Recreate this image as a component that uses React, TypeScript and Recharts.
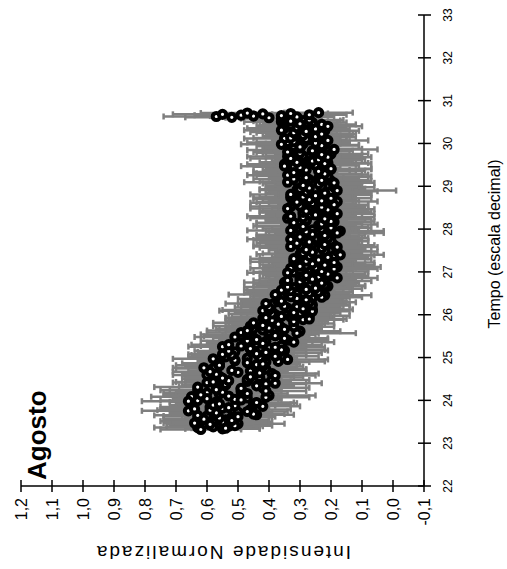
import { ScatterChart, Scatter, XAxis, YAxis, ErrorBar } from "recharts";

// Tempo (h, escala decimal) de cada leitura: primeira passada
const tempo = [
  23.32, 23.35, 23.38, 23.41, 23.44, 23.47, 23.5, 23.53, 23.56, 23.59,
  23.62, 23.65, 23.68, 23.71, 23.74, 23.77, 23.8, 23.83, 23.86, 23.89,
  23.92, 23.95, 23.98, 24.01, 24.04, 24.07, 24.1, 24.13, 24.16, 24.19,
  24.22, 24.25, 24.28, 24.31, 24.34, 24.37, 24.4, 24.43, 24.46, 24.49,
  24.52, 24.55, 24.58, 24.61, 24.64, 24.67, 24.7, 24.73, 24.76, 24.79,
  24.82, 24.85, 24.88, 24.91, 24.94, 24.97, 25.0, 25.03, 25.06, 25.09,
  25.12, 25.15, 25.18, 25.21, 25.24, 25.27, 25.3, 25.33, 25.36, 25.39,
  25.42, 25.45, 25.48, 25.51, 25.54, 25.57, 25.6, 25.63, 25.66, 25.69,
  25.72, 25.75, 25.78, 25.81, 25.84, 25.87, 25.9, 25.93, 25.96, 25.99,
  26.02, 26.05, 26.08, 26.11, 26.14, 26.17, 26.2, 26.23, 26.26, 26.29,
  26.32, 26.35, 26.38, 26.41, 26.44, 26.47, 26.5, 26.53, 26.56, 26.59,
  26.62, 26.65, 26.68, 26.71, 26.74, 26.77, 26.8, 26.83, 26.86, 26.89,
  26.92, 26.95, 26.98, 27.01, 27.04, 27.07, 27.1, 27.13, 27.16, 27.19,
  27.22, 27.25, 27.28, 27.31, 27.34, 27.37, 27.4, 27.43, 27.46, 27.49,
  27.52, 27.55, 27.58, 27.61, 27.64, 27.67, 27.7, 27.73, 27.76, 27.79,
  27.82, 27.85, 27.88, 27.91, 27.94, 27.97, 28.0, 28.03, 28.06, 28.09,
  28.12, 28.15, 28.18, 28.21, 28.24, 28.27, 28.3, 28.33, 28.36, 28.39,
  28.42, 28.45, 28.48, 28.51, 28.54, 28.57, 28.6, 28.63, 28.66, 28.69,
  28.72, 28.75, 28.78, 28.81, 28.84, 28.87, 28.9, 28.93, 28.96, 28.99,
  29.02, 29.05, 29.08, 29.11, 29.14, 29.17, 29.2, 29.23, 29.26, 29.29,
  29.32, 29.35, 29.38, 29.41, 29.44, 29.47, 29.5, 29.53, 29.56, 29.59,
  29.62, 29.65, 29.68, 29.71, 29.74, 29.77, 29.8, 29.83, 29.86, 29.89,
  29.92, 29.95, 29.98, 30.01, 30.04, 30.07, 30.1, 30.13, 30.16, 30.19,
  30.22, 30.25, 30.28, 30.31, 30.34, 30.37, 30.4, 30.43, 30.46, 30.49,
  30.52, 30.55, 30.58,
  30.6, 30.61, 30.62, 30.63, 30.64, 30.65, 30.66, 30.67, 30.68, 30.69,
  30.7, 30.71, 30.72,
];

// Intensidade normalizada: primeira passada
const intensidade = [
  0.62, 0.54, 0.58, 0.51, 0.59, 0.64, 0.55, 0.52, 0.61, 0.56,
  0.5, 0.63, 0.45, 0.57, 0.47, 0.59, 0.64, 0.53, 0.42, 0.58,
  0.56, 0.44, 0.66, 0.49, 0.6, 0.41, 0.53, 0.62, 0.47, 0.55,
  0.41, 0.57, 0.49, 0.63, 0.44, 0.54, 0.38, 0.58, 0.53, 0.47,
  0.55, 0.46, 0.38, 0.57, 0.43, 0.59, 0.52, 0.41, 0.61, 0.42,
  0.56, 0.42, 0.47, 0.37, 0.51, 0.58, 0.43, 0.38, 0.52, 0.44,
  0.41, 0.53, 0.36, 0.46, 0.38, 0.49, 0.53, 0.42, 0.32, 0.47,
  0.44, 0.35, 0.51, 0.38, 0.47, 0.31, 0.4, 0.47, 0.35, 0.4,
  0.32, 0.42, 0.37, 0.45, 0.32, 0.39, 0.27, 0.41, 0.36, 0.32,
  0.39, 0.32, 0.26, 0.4, 0.29, 0.4, 0.35, 0.26, 0.41, 0.27,
  0.36, 0.28, 0.31, 0.23, 0.33, 0.38, 0.27, 0.24, 0.33, 0.28,
  0.25, 0.34, 0.22, 0.3, 0.23, 0.3, 0.34, 0.26, 0.18, 0.29,
  0.28, 0.21, 0.34, 0.23, 0.3, 0.19, 0.25, 0.3, 0.22, 0.26,
  0.19, 0.28, 0.24, 0.32, 0.21, 0.27, 0.17, 0.29, 0.26, 0.22,
  0.28, 0.23, 0.18, 0.3, 0.22, 0.31, 0.27, 0.2, 0.33, 0.21,
  0.3, 0.22, 0.26, 0.18, 0.28, 0.33, 0.23, 0.2, 0.29, 0.24,
  0.23, 0.32, 0.2, 0.28, 0.22, 0.29, 0.33, 0.25, 0.18, 0.29,
  0.28, 0.21, 0.34, 0.23, 0.3, 0.19, 0.26, 0.31, 0.23, 0.27,
  0.2, 0.29, 0.25, 0.33, 0.22, 0.28, 0.18, 0.3, 0.27, 0.23,
  0.29, 0.24, 0.19, 0.31, 0.23, 0.32, 0.28, 0.21, 0.34, 0.22,
  0.32, 0.24, 0.28, 0.2, 0.3, 0.35, 0.25, 0.22, 0.31, 0.26,
  0.24, 0.33, 0.21, 0.29, 0.23, 0.3, 0.34, 0.26, 0.19, 0.3,
  0.3, 0.23, 0.36, 0.25, 0.32, 0.21, 0.28, 0.33, 0.25, 0.29,
  0.23, 0.32, 0.28, 0.36, 0.25, 0.31, 0.21, 0.33, 0.3, 0.26,
  0.33, 0.27, 0.36,
  0.4, 0.52, 0.31, 0.57, 0.45, 0.36, 0.49, 0.27, 0.55, 0.42,
  0.33, 0.47, 0.24,
];

// Desvio padrao de cada leitura: primeira passada
const desvio = [
  0.13, 0.11, 0.15, 0.12, 0.14, 0.1, 0.16, 0.12, 0.13, 0.11,
  0.12, 0.14, 0.1, 0.15, 0.13, 0.17, 0.11, 0.13, 0.12, 0.14,
  0.14, 0.12, 0.15, 0.13, 0.11, 0.14, 0.16, 0.12, 0.13, 0.15,
  0.13, 0.15, 0.11, 0.14, 0.12, 0.13, 0.15, 0.12, 0.14, 0.11,
  0.12, 0.14, 0.13, 0.11, 0.15, 0.12, 0.14, 0.13, 0.1, 0.13,
  0.14, 0.12, 0.13, 0.15, 0.11, 0.13, 0.12, 0.14, 0.13, 0.12,
  0.13, 0.11, 0.14, 0.12, 0.16, 0.13, 0.12, 0.14, 0.13, 0.15,
  0.12, 0.14, 0.13, 0.11, 0.15, 0.19, 0.14, 0.13, 0.12, 0.14,
  0.13, 0.12, 0.15, 0.13, 0.11, 0.14, 0.12, 0.13, 0.16, 0.12,
  0.14, 0.13, 0.12, 0.15, 0.13, 0.11, 0.14, 0.12, 0.13, 0.15,
  0.13, 0.12, 0.14, 0.13, 0.12, 0.15, 0.13, 0.11, 0.14, 0.12,
  0.12, 0.14, 0.13, 0.15, 0.12, 0.13, 0.11, 0.14, 0.13, 0.12,
  0.14, 0.12, 0.13, 0.15, 0.12, 0.14, 0.13, 0.12, 0.16, 0.13,
  0.13, 0.15, 0.12, 0.14, 0.13, 0.11, 0.14, 0.13, 0.12, 0.15,
  0.12, 0.14, 0.13, 0.15, 0.12, 0.13, 0.16, 0.12, 0.14, 0.13,
  0.14, 0.13, 0.12, 0.15, 0.13, 0.14, 0.12, 0.13, 0.15, 0.12,
  0.13, 0.12, 0.14, 0.13, 0.15, 0.12, 0.14, 0.13, 0.12, 0.14,
  0.15, 0.13, 0.12, 0.14, 0.13, 0.11, 0.14, 0.13, 0.12, 0.15,
  0.13, 0.14, 0.12, 0.13, 0.15, 0.12, 0.19, 0.13, 0.14, 0.12,
  0.12, 0.14, 0.13, 0.12, 0.15, 0.13, 0.12, 0.14, 0.13, 0.12,
  0.13, 0.12, 0.14, 0.13, 0.11, 0.14, 0.13, 0.15, 0.12, 0.13,
  0.12, 0.13, 0.14, 0.12, 0.13, 0.12, 0.11, 0.13, 0.14, 0.12,
  0.11, 0.12, 0.13, 0.11, 0.12, 0.13, 0.11, 0.12, 0.1, 0.12,
  0.11, 0.12, 0.1, 0.12, 0.11, 0.12, 0.11, 0.1, 0.12, 0.11,
  0.12, 0.11, 0.13,
  0.14, 0.15, 0.12, 0.17, 0.14, 0.13, 0.15, 0.12, 0.16, 0.14,
  0.12, 0.15, 0.11,
];

// Segunda passada, leituras intercaladas
const tempo2 = [
  23.335, 23.365, 23.395, 23.425, 23.455, 23.485, 23.515, 23.545, 23.575, 23.605,
  23.635, 23.665, 23.695, 23.725, 23.755, 23.785, 23.815, 23.845, 23.875, 23.905,
  23.935, 23.965, 23.995, 24.025, 24.055, 24.085, 24.115, 24.145, 24.175, 24.205,
  24.235, 24.265, 24.295, 24.325, 24.355, 24.385, 24.415, 24.445, 24.475, 24.505,
  24.535, 24.565, 24.595, 24.625, 24.655, 24.685, 24.715, 24.745, 24.775, 24.805,
  24.835, 24.865, 24.895, 24.925, 24.955, 24.985, 25.015, 25.045, 25.075, 25.105,
  25.135, 25.165, 25.195, 25.225, 25.255, 25.285, 25.315, 25.345, 25.375, 25.405,
  25.435, 25.465, 25.495, 25.525, 25.555, 25.585, 25.615, 25.645, 25.675, 25.705,
  25.735, 25.765, 25.795, 25.825, 25.855, 25.885, 25.915, 25.945, 25.975, 26.005,
  26.035, 26.065, 26.095, 26.125, 26.155, 26.185, 26.215, 26.245, 26.275, 26.305,
  26.335, 26.365, 26.395, 26.425, 26.455, 26.485, 26.515, 26.545, 26.575, 26.605,
  26.635, 26.665, 26.695, 26.725, 26.755, 26.785, 26.815, 26.845, 26.875, 26.905,
  26.935, 26.965, 26.995, 27.025, 27.055, 27.085, 27.115, 27.145, 27.175, 27.205,
  27.235, 27.265, 27.295, 27.325, 27.355, 27.385, 27.415, 27.445, 27.475, 27.505,
  27.535, 27.565, 27.595, 27.625, 27.655, 27.685, 27.715, 27.745, 27.775, 27.805,
  27.835, 27.865, 27.895, 27.925, 27.955, 27.985, 28.015, 28.045, 28.075, 28.105,
  28.135, 28.165, 28.195, 28.225, 28.255, 28.285, 28.315, 28.345, 28.375, 28.405,
  28.435, 28.465, 28.495, 28.525, 28.555, 28.585, 28.615, 28.645, 28.675, 28.705,
  28.735, 28.765, 28.795, 28.825, 28.855, 28.885, 28.915, 28.945, 28.975, 29.005,
  29.035, 29.065, 29.095, 29.125, 29.155, 29.185, 29.215, 29.245, 29.275, 29.305,
  29.335, 29.365, 29.395, 29.425, 29.455, 29.485, 29.515, 29.545, 29.575, 29.605,
  29.635, 29.665, 29.695, 29.725, 29.755, 29.785, 29.815, 29.845, 29.875, 29.905,
  29.935, 29.965, 29.995, 30.025, 30.055, 30.085, 30.115, 30.145, 30.175, 30.205,
  30.235, 30.265, 30.295, 30.325, 30.355, 30.385, 30.415, 30.445, 30.475, 30.505,
  30.535, 30.565,
];

const intensidade2 = [
  0.55, 0.63, 0.53, 0.59, 0.5, 0.58, 0.62, 0.54, 0.63, 0.52,
  0.6, 0.44, 0.57, 0.5, 0.66, 0.46, 0.55, 0.59, 0.51, 0.45,
  0.44, 0.57, 0.63, 0.51, 0.47, 0.65, 0.4, 0.56, 0.6, 0.49,
  0.63, 0.49, 0.42, 0.57, 0.54, 0.41, 0.6, 0.47, 0.39, 0.55,
  0.43, 0.56, 0.6, 0.39, 0.5, 0.46, 0.42, 0.58, 0.44, 0.56,
  0.44, 0.56, 0.41, 0.51, 0.34, 0.47, 0.54, 0.41, 0.55, 0.37,
  0.51, 0.35, 0.46, 0.4, 0.55, 0.36, 0.44, 0.48, 0.41, 0.34,
  0.35, 0.45, 0.49, 0.4, 0.37, 0.49, 0.3, 0.42, 0.45, 0.36,
  0.46, 0.37, 0.32, 0.41, 0.39, 0.29, 0.42, 0.33, 0.27, 0.38,
  0.3, 0.39, 0.42, 0.26, 0.34, 0.31, 0.27, 0.39, 0.29, 0.37,
  0.29, 0.37, 0.26, 0.33, 0.22, 0.31, 0.34, 0.26, 0.36, 0.23,
  0.32, 0.21, 0.3, 0.24, 0.35, 0.22, 0.28, 0.3, 0.24, 0.2,
  0.21, 0.29, 0.32, 0.25, 0.23, 0.33, 0.18, 0.28, 0.3, 0.23,
  0.32, 0.24, 0.2, 0.28, 0.27, 0.19, 0.3, 0.22, 0.18, 0.28,
  0.22, 0.29, 0.33, 0.19, 0.26, 0.23, 0.21, 0.31, 0.22, 0.3,
  0.23, 0.31, 0.21, 0.28, 0.17, 0.26, 0.3, 0.22, 0.32, 0.2,
  0.3, 0.19, 0.28, 0.23, 0.34, 0.21, 0.27, 0.29, 0.24, 0.2,
  0.29, 0.2, 0.27, 0.33, 0.22, 0.25, 0.31, 0.18, 0.28, 0.32,
  0.33, 0.25, 0.21, 0.29, 0.28, 0.2, 0.31, 0.23, 0.19, 0.29,
  0.23, 0.3, 0.34, 0.2, 0.27, 0.24, 0.22, 0.32, 0.23, 0.31,
  0.33, 0.23, 0.2, 0.29, 0.32, 0.25, 0.35, 0.21, 0.27, 0.24,
  0.22, 0.29, 0.34, 0.24, 0.2, 0.31, 0.26, 0.33, 0.23, 0.3,
  0.32, 0.22, 0.29, 0.34, 0.25, 0.27, 0.35, 0.23, 0.3, 0.24,
  0.25, 0.34, 0.22, 0.31, 0.35, 0.26, 0.32, 0.23, 0.28, 0.36,
  0.29, 0.34,
];

const desvio2 = [
  0.12, 0.14, 0.11, 0.13, 0.15, 0.12, 0.13, 0.14, 0.11, 0.13,
  0.14, 0.12, 0.13, 0.11, 0.15, 0.13, 0.12, 0.16, 0.13, 0.12,
  0.13, 0.15, 0.12, 0.14, 0.11, 0.13, 0.15, 0.12, 0.14, 0.13,
  0.12, 0.13, 0.15, 0.12, 0.14, 0.13, 0.11, 0.14, 0.12, 0.13,
  0.14, 0.12, 0.11, 0.15, 0.13, 0.12, 0.14, 0.12, 0.13, 0.11,
  0.13, 0.12, 0.14, 0.12, 0.13, 0.15, 0.12, 0.13, 0.11, 0.14,
  0.12, 0.14, 0.13, 0.12, 0.11, 0.13, 0.14, 0.12, 0.15, 0.13,
  0.14, 0.13, 0.12, 0.15, 0.13, 0.11, 0.13, 0.14, 0.12, 0.13,
  0.12, 0.14, 0.13, 0.12, 0.15, 0.13, 0.12, 0.14, 0.13, 0.11,
  0.13, 0.12, 0.14, 0.13, 0.12, 0.14, 0.13, 0.11, 0.14, 0.12,
  0.14, 0.13, 0.12, 0.13, 0.15, 0.12, 0.14, 0.13, 0.12, 0.13,
  0.13, 0.12, 0.14, 0.12, 0.13, 0.15, 0.12, 0.13, 0.14, 0.12,
  0.12, 0.14, 0.13, 0.12, 0.15, 0.13, 0.14, 0.12, 0.13, 0.14,
  0.14, 0.12, 0.13, 0.15, 0.12, 0.13, 0.14, 0.12, 0.13, 0.12,
  0.13, 0.14, 0.12, 0.13, 0.15, 0.12, 0.13, 0.14, 0.12, 0.13,
  0.12, 0.13, 0.15, 0.12, 0.14, 0.13, 0.12, 0.14, 0.13, 0.15,
  0.14, 0.12, 0.13, 0.14, 0.12, 0.15, 0.13, 0.12, 0.14, 0.13,
  0.13, 0.14, 0.12, 0.13, 0.14, 0.12, 0.15, 0.13, 0.12, 0.13,
  0.12, 0.13, 0.14, 0.12, 0.13, 0.15, 0.12, 0.14, 0.13, 0.12,
  0.13, 0.12, 0.14, 0.13, 0.12, 0.13, 0.14, 0.12, 0.15, 0.13,
  0.12, 0.14, 0.13, 0.12, 0.13, 0.14, 0.12, 0.13, 0.12, 0.14,
  0.13, 0.12, 0.13, 0.14, 0.12, 0.13, 0.12, 0.14, 0.13, 0.12,
  0.12, 0.11, 0.12, 0.13, 0.11, 0.12, 0.13, 0.11, 0.12, 0.11,
  0.11, 0.12, 0.11, 0.1, 0.12, 0.11, 0.12, 0.11, 0.1, 0.12,
  0.12, 0.11,
];

const ticksIntensidade = [-0.1, 0, 0.1, 0.2, 0.3, 0.4, 0.5, 0.6, 0.7, 0.8, 0.9, 1.0, 1.1, 1.2];
const ticksTempo = [22, 23, 24, 25, 26, 27, 28, 29, 30, 31, 32, 33];

const pontos = [
  ...tempo2.map((t, k) => ({ t, i: intensidade2[k], desvio: desvio2[k] })),
  ...tempo.map((t, k) => ({ t, i: intensidade[k], desvio: desvio[k] })),
];

const FONTE = '"Liberation Sans", Arial, sans-serif';
const virgula = (v: number) => v.toFixed(1).replace(".", ",");

// eixo de intensidade (embaixo): traço cruzando a linha + rótulo girado
const TickBaixo = ({ x, y, payload }: any) => (
  <g>
    <line x1={x} x2={x} y1={y - 6} y2={y + 6} stroke="#000" strokeWidth={1.5} />
    <text
      x={x}
      y={y + 12}
      dy="0.35em"
      transform={`rotate(-90, ${x}, ${y + 12})`}
      textAnchor="end"
      fontSize={16}
      fontFamily={FONTE}
      fill="#000"
    >
      {virgula(payload.value)}
    </text>
  </g>
);

const TickTopo = ({ x, y }: any) => (
  <line x1={x} x2={x} y1={y - 7} y2={y + 3} stroke="#000" strokeWidth={1.5} />
);

// eixo do tempo (à direita)
const TickDireita = ({ x, y, payload }: any) => (
  <g>
    <line x1={x - 6} x2={x + 7} y1={y} y2={y} stroke="#000" strokeWidth={1.5} />
    <text
      x={x + 28}
      y={y}
      transform={`rotate(-90, ${x + 28}, ${y})`}
      textAnchor="middle"
      fontSize={12}
      fontFamily={FONTE}
      fill="#000"
    >
      {payload.value}
    </text>
  </g>
);

const TickEsquerda = ({ x, y }: any) => (
  <line x1={x} x2={x + 5} y1={y} y2={y} stroke="#000" strokeWidth={1.5} />
);

// círculo aberto de contorno grosso
const Marcador = ({ cx, cy }: any) => (
  <circle cx={cx} cy={cy} r={3.6} fill="#fff" stroke="#000" strokeWidth={4} />
);

export default function App() {
  return (
    <div style={{ position: "absolute", left: 0, top: 0, width: 507, height: 569, background: "#fff" }}>
      <ScatterChart width={507} height={569} margin={{ top: 15, right: 0, bottom: 0, left: 21 }}>
        <XAxis
          xAxisId="int"
          dataKey="i"
          type="number"
          orientation="bottom"
          reversed
          domain={[-0.1, 1.2]}
          ticks={ticksIntensidade}
          interval={0}
          height={83}
          tickSize={0}
          tickMargin={0}
          tickLine={false}
          tick={(p: any) => <TickBaixo {...p} />}
          axisLine={{ stroke: "#000", strokeWidth: 1.5 }}
          allowDataOverflow
        />
        <XAxis
          xAxisId="intTopo"
          type="number"
          orientation="top"
          reversed
          domain={[-0.1, 1.2]}
          ticks={ticksIntensidade}
          interval={0}
          height={0}
          tickSize={0}
          tickMargin={0}
          tickLine={false}
          tick={(p: any) => <TickTopo {...p} />}
          axisLine={{ stroke: "#000", strokeWidth: 1.5 }}
          allowDataOverflow
        />
        <YAxis
          yAxisId="tempo"
          dataKey="t"
          type="number"
          orientation="right"
          domain={[22, 33]}
          ticks={ticksTempo}
          interval={0}
          width={83}
          tickSize={0}
          tickMargin={0}
          tickLine={false}
          tick={(p: any) => <TickDireita {...p} />}
          axisLine={{ stroke: "#000", strokeWidth: 1.5 }}
          allowDataOverflow
        />
        <YAxis
          yAxisId="tempoEsq"
          type="number"
          orientation="left"
          domain={[22, 33]}
          ticks={ticksTempo}
          interval={0}
          width={0}
          tickSize={0}
          tickMargin={0}
          tickLine={false}
          tick={(p: any) => <TickEsquerda {...p} />}
          axisLine={{ stroke: "#000", strokeWidth: 1.5 }}
          allowDataOverflow
        />
        <Scatter
          data={pontos}
          xAxisId="int"
          yAxisId="tempo"
          shape={(p: any) => <Marcador {...p} />}
          isAnimationActive={false}
        >
          <ErrorBar
            dataKey="desvio"
            direction="x"
            width={3}
            stroke="#7f7f7f"
            strokeWidth={2.5}
            isAnimationActive={false}
          />
        </Scatter>
      </ScatterChart>
      <svg
        width={507}
        height={569}
        style={{ position: "absolute", left: 0, top: 0, pointerEvents: "none" }}
      >
        <text
          x={46}
          y={480}
          transform="rotate(-90, 46, 480)"
          textAnchor="start"
          fontSize={26}
          fontWeight="bold"
          fontFamily={FONTE}
          fill="#000"
        >
          Agosto
        </text>
        <text
          x={500}
          y={244}
          transform="rotate(-90, 500, 244)"
          textAnchor="middle"
          fontSize={16}
          fontFamily={FONTE}
          fill="#000"
        >
          Tempo (escala decimal)
        </text>
        <text
          x={223}
          y={546}
          transform="rotate(180, 223, 546)"
          textAnchor="middle"
          fontSize={19}
          letterSpacing={2}
          fontFamily={FONTE}
          fill="#000"
        >
          Intensidade Normalizada
        </text>
      </svg>
    </div>
  );
}
